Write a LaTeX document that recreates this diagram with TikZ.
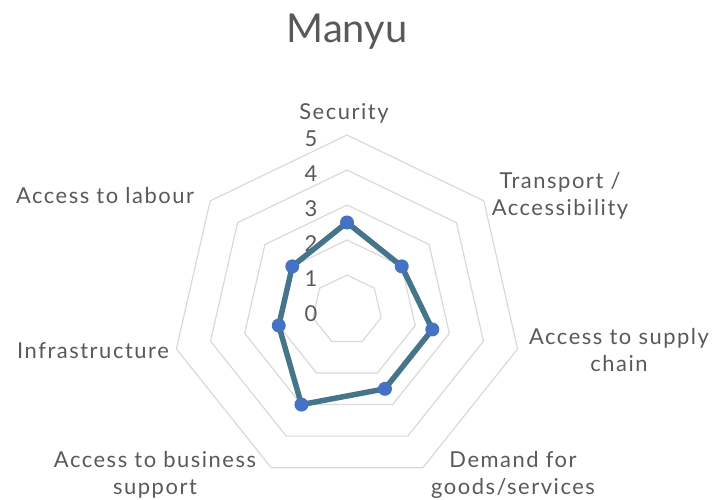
\documentclass[tikz,border=0pt]{standalone}
\usepackage{fontspec}
\setmainfont{Lato}[LetterSpace=7]
\newfontfamily\titlefont{Lato}
\definecolor{ringgray}{RGB}{217,217,217}
\definecolor{txtgray}{RGB}{89,89,89}
\definecolor{serieline}{RGB}{69,117,137}
\definecolor{seriedot}{RGB}{68,114,196}
\tikzset{
  ring/.style={draw=ringgray, line width=1.2bp},
  serie/.style={draw=serieline, line width=5.5bp},
  dot/.style={fill=seriedot},
  axlabel/.style={text=txtgray, inner sep=0pt, align=center, font=\fontsize{22}{27}\selectfont},
  ticklabel/.style={text=txtgray, inner sep=0pt, font=\fontsize{22}{24}\selectfont}
}
\begin{document}
\begin{tikzpicture}[x=1bp, y=1bp, line join=round, line cap=round]
	\useasboundingbox (0,0) rectangle (716,500);
	\def\un{35} \def\cx{347} \def\cy{190}
	% rings and scale
	\begin{scope}[shift={(\cx,\cy)}]
		\foreach \k in {1,...,5}
			\draw[ring] (90:{\k*\un}) \foreach \i in {1,...,6}{ -- ({90-\i*360/7}:{\k*\un})} -- cycle;
		\foreach \k in {0,...,5}
			\node[ticklabel] (t\k) at (-36,{\k*\un-4}) {\k};
		% values
		\foreach \v [count=\i from 0] in {2.5,2,2.5,2.5,3,2,2}
			\coordinate (p\i) at ({90-\i*360/7}:{\v*\un});
		\draw[serie] (p0) -- (p1) -- (p2) -- (p3) -- (p4) -- (p5) -- (p6) -- cycle;
		\foreach \i in {0,...,6}
			\fill[dot] (p\i) circle (7);
	\end{scope}
	% title and axis names
	\node[text=txtgray, inner sep=0pt, font=\titlefont\fontsize{40}{44}\selectfont] (title) at (347,468) {Manyu};
	\node[axlabel] (security) at (344,387) {Security};
	\node[axlabel] (transport) at (560,304) {Transport /\\Accessibility};
	\node[axlabel] (supply) at (619,150) {Access to supply\\chain};
	\node[axlabel] (demand) at (513,25) {Demand for\\goods/services};
	\node[axlabel] (business) at (155,25) {Access to business\\support};
	\node[axlabel] (infra) at (93,149) {Infrastructure};
	\node[axlabel] (labour) at (105,304) {Access to labour};
\end{tikzpicture}
\end{document}
